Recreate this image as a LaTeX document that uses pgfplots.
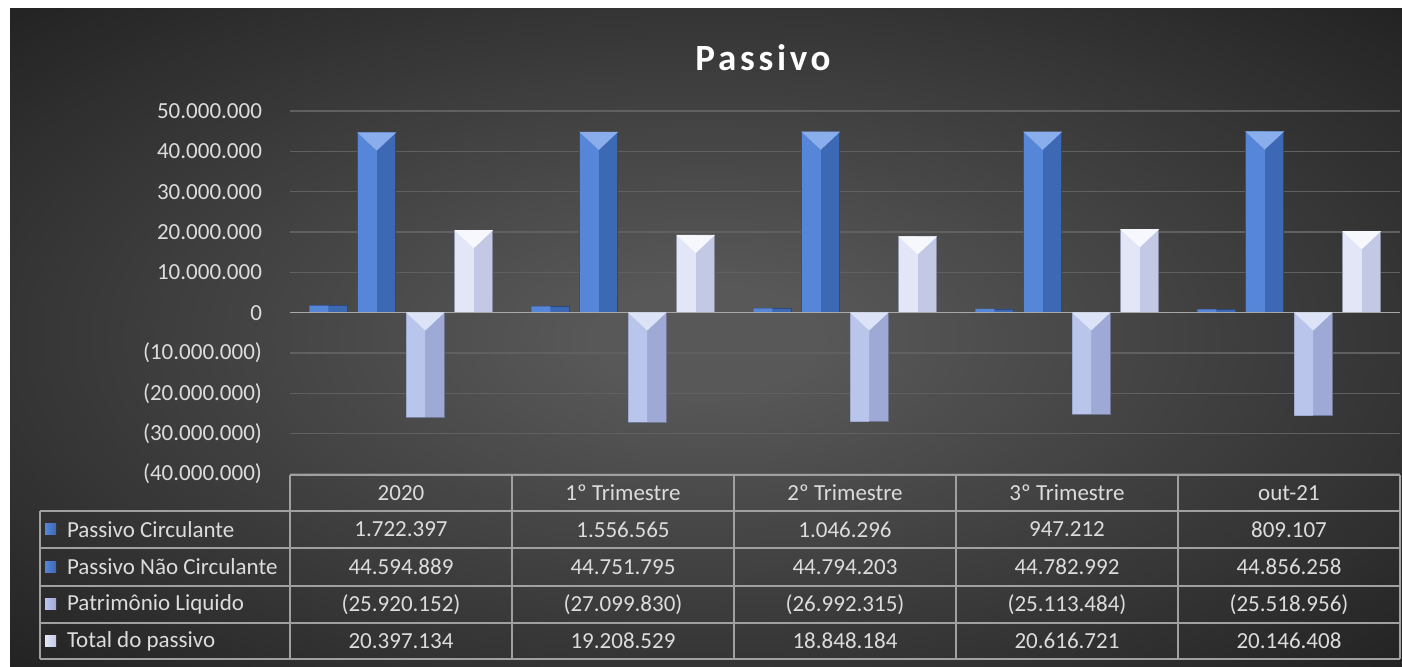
\documentclass[border=0pt]{standalone}
\usepackage{pgfplots}
\pgfplotsset{compat=1.18}
\usepackage{pgfplotstable}
\usepackage{fontspec}
\setmainfont{Carlito}
\newfontfamily\titlefont[LetterSpace=10]{Carlito}
\definecolor{bgc}{HTML}{585858}
\definecolor{bgd}{HTML}{222222}
\definecolor{txt}{HTML}{DCDCDC}
\definecolor{gridc}{HTML}{606060}
\definecolor{zeroc}{HTML}{A8A8A8}
\definecolor{tbl}{HTML}{A0A0A0}
\definecolor{pcL}{HTML}{5586D8}
\definecolor{pcD}{HTML}{3D68B4}
\definecolor{pcT}{HTML}{8AADEB}
\definecolor{plL}{HTML}{BAC5EC}
\definecolor{plD}{HTML}{9EAAD5}
\definecolor{plT}{HTML}{DDE3F7}
\definecolor{tpL}{HTML}{E3E6F6}
\definecolor{tpD}{HTML}{C3C8E4}
\definecolor{tpT}{HTML}{F7F8FD}
\pgfdeclareradialshading{bgshade}{\pgfpoint{0bp}{0bp}}{color(0bp)=(bgc); color(4bp)=(bgc); color(36bp)=(bgd); color(50bp)=(bgd)}

\pgfplotstableread{
x y
0 1722397
1 1556565
2 1046296
3 947212
4 809107
}\pc
\pgfplotstableread{
x y
0 44594889
1 44751795
2 44794203
3 44782992
4 44856258
}\pnc
\pgfplotstableread{
x y
0 -25920152
1 -27099830
2 -26992315
3 -25113484
4 -25518956
}\pl
\pgfplotstableread{
x y
0 20397134
1 19208529
2 18848184
3 20616721
4 20146408
}\tp

\newcommand{\fs}{\fontsize{11.5}{13}\selectfont}

\begin{document}
\begin{tikzpicture}
\fill[white] (0,0) rectangle (701pt,333.5pt);
\begin{scope}[x=0.5pt, y=-0.5pt, yshift=333.5pt]
  \shade[shading=bgshade] (10,9) rectangle (1402,667);
\end{scope}

\begin{axis}[
  at={(145pt,96.5pt)}, anchor=south west,
  width=555pt, height=181.5pt, scale only axis,
  xmin=-0.5, xmax=4.5, ymin=-40000000, ymax=50000000,
  ytick={-40000000,-30000000,-20000000,-10000000,0,10000000,20000000,30000000,40000000,50000000},
  yticklabels={(40.000.000),(30.000.000),(20.000.000),(10.000.000),0,10.000.000,20.000.000,30.000.000,40.000.000,50.000.000},
  scaled y ticks=false,
  yticklabel style={font=\fs, color=txt, xshift=-10.5pt},
  xtick=\empty,
  axis line style={draw=none},
  major tick length=0pt,
  ymajorgrids, grid style={gridc, line width=0.8pt},
  clip=false,
  ybar,
]
% Passivo Circulante
\addplot[ybar, bar width=0.171, bar shift=-0.3277, fill=pcD, draw=pcD!70!black, line width=0.3pt] table[x=x,y=y]{\pc};
\addplot[ybar, bar width=0.0855, bar shift=-0.37045, fill=pcL, draw=none] table[x=x,y=y]{\pc};
% Passivo Nao Circulante
\addplot[ybar, bar width=0.171, bar shift=-0.1092, fill=pcD, draw=pcD!70!black, line width=0.3pt] table[x=x,y=y]{\pnc};
\addplot[ybar, bar width=0.0855, bar shift=-0.15195, fill=pcL, draw=none] table[x=x,y=y]{\pnc};
% Patrimonio Liquido
\addplot[ybar, bar width=0.171, bar shift=0.1092, fill=plD, draw=plD!70!black, line width=0.3pt] table[x=x,y=y]{\pl};
\addplot[ybar, bar width=0.0855, bar shift=0.06645, fill=plL, draw=none] table[x=x,y=y]{\pl};
% Total do passivo
\addplot[ybar, bar width=0.171, bar shift=0.3277, fill=tpD, draw=tpD!70!black, line width=0.3pt] table[x=x,y=y]{\tp};
\addplot[ybar, bar width=0.0855, bar shift=0.28495, fill=tpL, draw=none] table[x=x,y=y]{\tp};
% bevel tops
\addplot[only marks, color=pcT, mark=triangle*, mark size=10.6pt, mark options={yshift=-2.9pt, rotate=180, yscale=0.54, fill=pcT, draw=pcT}] table[x expr=\thisrow{x}-0.1092, y=y]{\pnc};
\addplot[only marks, color=plT, mark=triangle*, mark size=10.6pt, mark options={yshift=-2.9pt, rotate=180, yscale=0.54, fill=plT, draw=plT}] table[x expr=\thisrow{x}+0.1092, y expr=0]{\pl};
\addplot[only marks, color=tpT, mark=triangle*, mark size=10.6pt, mark options={yshift=-2.9pt, rotate=180, yscale=0.54, fill=tpT, draw=tpT}] table[x expr=\thisrow{x}+0.3277, y=y]{\tp};
\draw[zeroc, line width=0.8pt] (axis cs:-0.5,0) -- (axis cs:4.5,0);
\end{axis}

\begin{scope}[x=0.5pt, y=-0.5pt, yshift=333.5pt]
  \node[text=white, font=\fontsize{18.5}{22}\selectfont\bfseries\titlefont] at (763,58) {Passivo};
  % table lines
  \begin{scope}[draw=tbl, line width=0.9pt]
    \draw (290,475) -- (1400,475);
    \foreach \yy in {511,548,586,623,659} \draw (40,\yy) -- (1400,\yy);
    \foreach \xx in {290,512,734,956,1178,1400} \draw (\xx,475) -- (\xx,659);
    \draw (40,511) -- (40,659);
  \end{scope}
  % header
  \foreach \t [count=\i from 0] in {2020,1º Trimestre,2º Trimestre,3º Trimestre,out-21}
    \node[text=txt, font=\fs] at (401+222*\i,493) {\t};
  % row labels
  \node[text=txt, font=\fs, anchor=west] at (60,529.5) {Passivo Circulante};
  \node[text=txt, font=\fs, anchor=west] at (60,567) {Passivo Não Circulante};
  \node[text=txt, font=\fs, anchor=west] at (60,604.5) {Patrimônio Liquido};
  \node[text=txt, font=\fs, anchor=west] at (60,641) {Total do passivo};
  % legend keys
  \shade[left color=pcL, right color=pcD] (45,524) rectangle (56,535);
  \shade[left color=pcL, right color=pcD] (45,561.5) rectangle (56,572.5);
  \shade[left color=plL, right color=plD] (45,599) rectangle (56,610);
  \shade[left color=tpL, right color=tpD] (45,635.5) rectangle (56,646.5);
  % values
  \foreach \t [count=\i from 0] in {1.722.397,1.556.565,1.046.296,947.212,809.107}
    \node[text=txt, font=\fs] at (401+222*\i,529.5) {\t};
  \foreach \t [count=\i from 0] in {44.594.889,44.751.795,44.794.203,44.782.992,44.856.258}
    \node[text=txt, font=\fs] at (401+222*\i,567) {\t};
  \foreach \t [count=\i from 0] in {(25.920.152),(27.099.830),(26.992.315),(25.113.484),(25.518.956)}
    \node[text=txt, font=\fs] at (401+222*\i,604.5) {\t};
  \foreach \t [count=\i from 0] in {20.397.134,19.208.529,18.848.184,20.616.721,20.146.408}
    \node[text=txt, font=\fs] at (401+222*\i,641) {\t};
\end{scope}
\pgfresetboundingbox
\path (0,0) rectangle (701pt,333.5pt);
\end{tikzpicture}
\end{document}
